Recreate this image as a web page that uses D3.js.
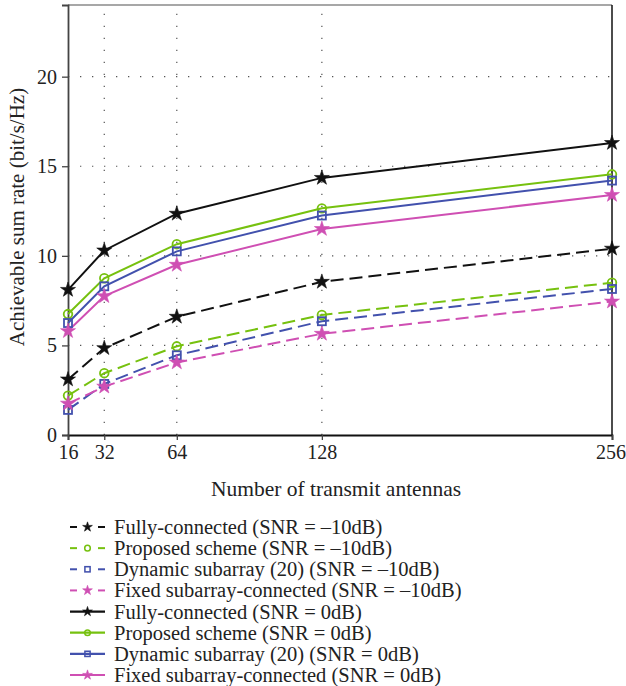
<!DOCTYPE html>
<html>
<head>
<meta charset="utf-8">
<script src="https://cdn.jsdelivr.net/npm/d3@7"></script>
<style>
  html, body { margin: 0; padding: 0; background: #fff; }
  svg { display: block; }
  text { font-family: "Liberation Serif", "Times New Roman", serif; fill: #222; }
</style>
</head>
<body>
<svg id="chart" width="626" height="686"></svg>
<script>
// Number of transmit antennas
const antennas = [16, 32, 64, 128, 256];

// Achievable sum rate (bit/s/Hz) per scheme
const fullyLow    = [3.1, 4.85, 6.6, 8.55, 10.4];
const proposedLow = [2.2, 3.45, 4.95, 6.7, 8.5];
const dynamicLow  = [1.4, 2.85, 4.45, 6.35, 8.15];
const fixedLow    = [1.75, 2.7, 4.05, 5.65, 7.45];
const fullyHigh    = [8.1, 10.3, 12.35, 14.35, 16.3];
const proposedHigh = [6.75, 8.75, 10.65, 12.65, 14.55];
const dynamicHigh  = [6.25, 8.3, 10.25, 12.25, 14.2];
const fixedHigh    = [5.8, 7.75, 9.5, 11.5, 13.4];

const yTicks = [0, 5, 10, 15, 20];
const seriesNames = [
  "Fully-connected (SNR = \u201310dB)",
  "Proposed scheme (SNR = \u201310dB)",
  "Dynamic subarray (20) (SNR = \u201310dB)",
  "Fixed subarray-connected (SNR = \u201310dB)",
  "Fully-connected (SNR = 0dB)",
  "Proposed scheme (SNR = 0dB)",
  "Dynamic subarray (20) (SNR = 0dB)",
  "Fixed subarray-connected (SNR = 0dB)"
];

const GREEN = "#76c10f", BLUE = "#4251ad", PINK = "#cf4fb3", BLACK = "#111";
const series = [
  { name: seriesNames[0], values: fullyLow,    color: BLACK, marker: "star",   dashed: true },
  { name: seriesNames[1], values: proposedLow, color: GREEN, marker: "circle", dashed: true },
  { name: seriesNames[2], values: dynamicLow,  color: BLUE,  marker: "square", dashed: true },
  { name: seriesNames[3], values: fixedLow,    color: PINK,  marker: "star",   dashed: true },
  { name: seriesNames[4], values: fullyHigh,    color: BLACK, marker: "star",   dashed: false },
  { name: seriesNames[5], values: proposedHigh, color: GREEN, marker: "circle", dashed: false },
  { name: seriesNames[6], values: dynamicHigh,  color: BLUE,  marker: "square", dashed: false },
  { name: seriesNames[7], values: fixedHigh,    color: PINK,  marker: "star",   dashed: false }
];

const svg = d3.select("#chart");
const plot = { left: 68, right: 612, top: 5, bottom: 435 };

const x = d3.scaleLinear().domain([16, 256]).range([plot.left, plot.right]);
const y = d3.scaleLinear().domain([0, 24]).range([plot.bottom, plot.top]);

// dotted grid
const grid = svg.append("g");
grid.selectAll("line.gx").data(antennas.slice(1, -1)).join("line")
  .attr("x1", d => x(d)).attr("x2", d => x(d))
  .attr("y1", plot.bottom).attr("y2", plot.top)
  .attr("stroke", "#555").attr("stroke-width", 1.2)
  .attr("stroke-dasharray", "1.3,10.7");
grid.selectAll("line.gy").data(yTicks.slice(1)).join("line")
  .attr("x1", plot.left).attr("x2", plot.right)
  .attr("y1", d => y(d)).attr("y2", d => y(d))
  .attr("stroke", "#555").attr("stroke-width", 1.2)
  .attr("stroke-dasharray", "1.3,10.7");

// frame
svg.append("line").attr("x1", plot.left).attr("x2", plot.right)
  .attr("y1", plot.top).attr("y2", plot.top).attr("stroke", "#8a8a8a").attr("stroke-width", 1.5);
svg.append("line").attr("x1", plot.right).attr("x2", plot.right)
  .attr("y1", plot.top).attr("y2", plot.bottom).attr("stroke", "#111").attr("stroke-width", 1.5);

// axes
const xAxis = svg.append("g").attr("transform", `translate(0,${plot.bottom})`)
  .call(d3.axisBottom(x).tickValues(antennas).tickSize(5).tickPadding(5).tickFormat(d3.format("d")));
const yAxis = svg.append("g").attr("transform", `translate(${plot.left},0)`)
  .call(d3.axisLeft(y).tickValues(yTicks).tickSize(6).tickPadding(5).tickFormat(d3.format("d")));
[xAxis, yAxis].forEach(a => {
  a.select(".domain").attr("stroke", "#444").attr("stroke-width", 1.8);
  a.selectAll(".tick line").attr("stroke", "#444").attr("stroke-width", 1.3);
  a.selectAll(".tick text").attr("font-size", 20).attr("fill", "#222")
    .style("font-family", "'Liberation Serif', serif");
});
xAxis.select(".domain").attr("stroke", "#111");
// keep the last antenna label inside the page
xAxis.selectAll(".tick text").filter(d => d === 256).attr("dx", -1.5);

// axis titles
svg.append("text").attr("x", 336).attr("y", 496).attr("text-anchor", "middle")
  .attr("font-size", 21.5).text("Number of transmit antennas");
svg.append("text").attr("transform", `translate(24,217) rotate(-90)`)
  .attr("text-anchor", "middle").attr("font-size", 21)
  .text("Achievable sum rate (bit/s/Hz)");

// marker drawing
const starPath = d3.symbol().type(d3.symbolStar);
function drawMarker(g, kind, color, cx, cy, scale) {
  if (kind === "star") {
    g.append("path").attr("d", starPath.size(70 * scale * scale)())
      .attr("transform", `translate(${cx},${cy})`)
      .attr("fill", color).attr("stroke", color).attr("stroke-width", 0.6);
  } else if (kind === "circle") {
    g.append("circle").attr("cx", cx).attr("cy", cy).attr("r", 4.3 * scale)
      .attr("fill", "none").attr("stroke", color).attr("stroke-width", 1.8 * Math.min(1, scale + 0.2));
  } else {
    const s = 8 * scale;
    g.append("rect").attr("x", cx - s / 2).attr("y", cy - s / 2).attr("width", s).attr("height", s)
      .attr("fill", "none").attr("stroke", color).attr("stroke-width", 1.8 * Math.min(1, scale + 0.2));
  }
}

const line = d3.line().x((d, i) => x(antennas[i])).y(d => y(d));
const lines = svg.append("g");
series.forEach(s => {
  lines.append("path").datum(s.values).attr("d", line)
    .attr("fill", "none").attr("stroke", s.color).attr("stroke-width", 2)
    .attr("stroke-dasharray", s.dashed ? "13,6" : null);
});
series.forEach(s => {
  const g = lines.append("g");
  s.values.forEach((v, i) => drawMarker(g, s.marker, s.color, x(antennas[i]), y(v), 1));
});

// legend
const legend = svg.append("g");
const rowY = d3.scaleLinear().domain([0, 7]).range([527, 675]);
series.forEach((s, i) => {
  const yy = rowY(i);
  const g = legend.append("g");
  if (s.dashed) {
    g.append("line").attr("x1", 70).attr("x2", 77).attr("y1", yy).attr("y2", yy)
      .attr("stroke", s.color).attr("stroke-width", 2);
    g.append("line").attr("x1", 98).attr("x2", 105).attr("y1", yy).attr("y2", yy)
      .attr("stroke", s.color).attr("stroke-width", 2);
  } else {
    g.append("line").attr("x1", 70).attr("x2", 105).attr("y1", yy).attr("y2", yy)
      .attr("stroke", s.color).attr("stroke-width", 2.2);
  }
  drawMarker(g, s.marker, s.color, 87.5, yy, 0.65);
  g.append("text").attr("x", 114).attr("y", yy + 7).attr("font-size", 20.5).text(s.name);
});
</script>
</body>
</html>
